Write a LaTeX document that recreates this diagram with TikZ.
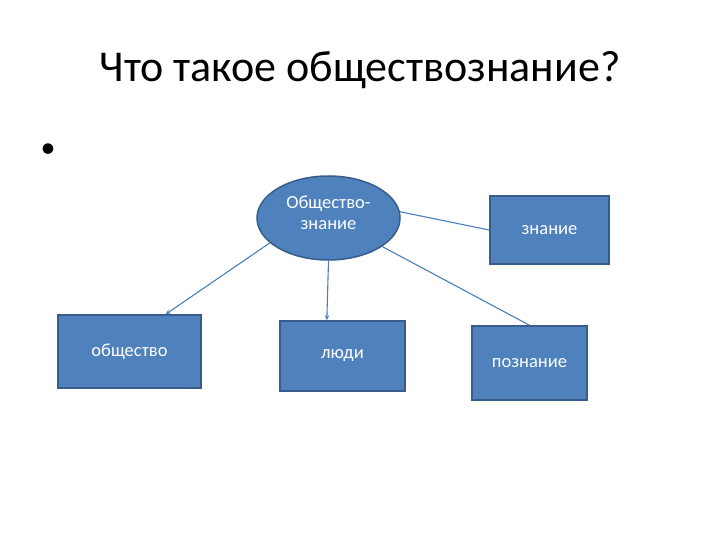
\documentclass[tikz,border=0pt]{standalone}
\usepackage{fontspec}
\setmainfont{Carlito}
\usetikzlibrary{arrows.meta,shapes.geometric,calc}
\definecolor{boxfill}{HTML}{4F81BD}
\definecolor{boxdraw}{HTML}{385D8A}
\definecolor{linkc}{HTML}{4A7EBB}
\begin{document}
\begin{tikzpicture}[x=1pt,y=-1pt,
  blue box/.style={draw=boxdraw,line width=1.5pt,fill=boxfill,text=white,font=\fontsize{18.5}{22}\selectfont,inner sep=0pt},
  link/.style={draw=linkc,line width=1.1pt},
  arrowlink/.style={link,-{Stealth[length=5pt,width=4.5pt]}}]
\useasboundingbox (0,0) rectangle (720,540);
\node (title) at (360,70) {\fontsize{44}{48}\selectfont Что такое обществознание?};
\node (bullet) at (48,151) {\fontsize{30}{32}\selectfont •};
\node[blue box,ellipse,minimum width=143pt,minimum height=84pt] (center) at (328.5,218) {};
\node[text=white,align=center,font=\fontsize{18.5}{21}\selectfont] (centertext) at (328.5,213) {Общество-\\знание};
\node[blue box,minimum width=143pt,minimum height=73pt] (society) at (129.5,351.5) {общество};
\node[blue box,minimum width=125pt,minimum height=70pt] (people) at (342.5,356) {люди};
\node[blue box,minimum width=119pt,minimum height=68pt] (know) at (549.5,230) {знание};
\node[blue box,minimum width=115pt,minimum height=74pt] (cogn) at (529.5,363) {познание};
\draw[arrowlink] (center.203) -- ($(society.north west)!0.75!(society.north east)$);
\draw[arrowlink] (center.south) -- ($(people.north west)!0.376!(people.north east)$);
\draw[link] (center.5) -- (know.west);
\draw[link] (center.-28) -- (cogn.north);
\end{tikzpicture}
\end{document}
